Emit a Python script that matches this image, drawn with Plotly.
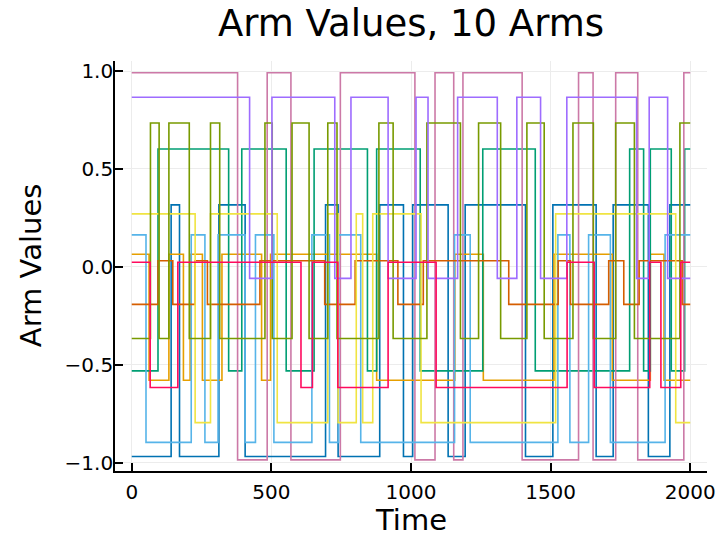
import plotly.graph_objects as go

T_END = 2000

# Arm data: (high value, low value), starting level, switch times
blue_levels = (0.317, -0.967); blue_start_high = False
blue_switch = [141, 171, 312, 406, 694, 739, 888, 973, 1006, 1133, 1194, 1410, 1508, 1663, 1724, 1850, 1927]

orange_levels = (0.065, -0.578); orange_start_high = True
orange_switch = [62, 133, 185, 209, 253, 323, 465, 497, 877, 1157, 1259, 1512, 1721, 1857, 1906]

green_levels = (0.602, -0.530); green_start_high = False
green_switch = [94, 347, 394, 553, 653, 844, 877, 1033, 1257, 1445, 1783, 1833, 1857, 1932, 1980]

pink_levels = (0.991, -0.984); pink_start_high = True
pink_switch = [379, 485, 570, 747, 1014, 1086, 1153, 1186, 1398, 1600, 1652, 1733, 1812, 1977]

lightblue_levels = (0.164, -0.895); lightblue_start_high = True
lightblue_switch = [51, 213, 262, 309, 406, 443, 509, 645, 708, 741, 820, 1156, 1212, 1526, 1569, 1636, 1714, 1910]

vermillion_levels = (0.032, -0.191); vermillion_start_high = False
vermillion_switch = [94, 147, 227, 271, 459, 691, 800, 953, 1044, 1350, 1527, 1571, 1708, 1762, 1817, 1971]

yellow_levels = (0.271, -0.794); yellow_start_high = True
yellow_switch = [227, 282, 521, 702, 739, 804, 827, 863, 1036, 1518, 1948]

olive_levels = (0.735, -0.365); olive_start_high = False
olive_switch = [67, 98, 133, 206, 282, 315, 477, 503, 574, 635, 702, 735, 885, 936, 1057, 1177, 1242,
                1321, 1415, 1477, 1580, 1653, 1733, 1800, 1963]

purple_levels = (0.866, -0.058); purple_start_high = True
purple_switch = [422, 502, 727, 785, 918, 1018, 1061, 1167, 1309, 1379, 1464, 1558, 1808, 1853, 1919]

crimson_levels = (0.024, -0.615); crimson_start_high = True
crimson_switch = [66, 165, 606, 647, 738, 918, 1090, 1559, 1656, 1855, 1895, 1966]

arms = [
    (blue_levels, blue_start_high, blue_switch, "#0072B2"),
    (orange_levels, orange_start_high, orange_switch, "#E69F00"),
    (green_levels, green_start_high, green_switch, "#009E73"),
    (pink_levels, pink_start_high, pink_switch, "#CC79A7"),
    (lightblue_levels, lightblue_start_high, lightblue_switch, "#56B4E9"),
    (vermillion_levels, vermillion_start_high, vermillion_switch, "#D55E00"),
    (yellow_levels, yellow_start_high, yellow_switch, "#F0E442"),
    (olive_levels, olive_start_high, olive_switch, "#789A00"),
    (purple_levels, purple_start_high, purple_switch, "#9E6CFF"),
    (crimson_levels, crimson_start_high, crimson_switch, "#FF0A5E"),
]

x_ticks = [0, 500, 1000, 1500, 2000]
x_ticktext = ["0", "500", "1000", "1500", "2000"]
y_ticks = [-1.0, -0.5, 0.0, 0.5, 1.0]
y_ticktext = ["\u22121.0", "\u22120.5", "0.0", "0.5", "1.0"]

fig = go.Figure()
for levels, start_high, switches, color in arms:
    xs = [0] + switches + [T_END]
    state = start_high
    ys = []
    for _ in range(len(switches) + 1):
        ys.append(levels[0] if state else levels[1])
        state = not state
    ys.append(ys[-1])
    fig.add_trace(go.Scatter(x=xs, y=ys, mode="lines", line_shape="hv",
                             line=dict(color=color, width=1.6), showlegend=False,
                             hoverinfo="skip"))

FONT = "DejaVu Sans"
W, H = 726, 539
fig.update_layout(
    width=W, height=H,
    margin=dict(l=115, r=11, t=61, b=68),
    paper_bgcolor="white", plot_bgcolor="white",
    font=dict(family=FONT, color="black"),
    title=dict(text="Arm Values, 10 Arms", font=dict(size=37, family=FONT, color="black"),
               x=0.5, xref="paper", xanchor="center", y=1 - 23 / H, yref="container",
               yanchor="middle"),
    showlegend=False,
)
fig.update_xaxes(range=[-60, 2060], tickvals=x_ticks, ticktext=x_ticktext,
                 showgrid=True, gridcolor="#ececec", gridwidth=1,
                 showline=True, linecolor="black", linewidth=1.6,
                 ticks="inside", ticklen=8, tickwidth=1.5, tickcolor="black",
                 tickfont=dict(size=20, family=FONT, color="black"),
                 ticklabelstandoff=2, ticklabeloverflow="allow",
                 zeroline=False, mirror=False)
fig.update_yaxes(range=[-1.041, 1.051], tickvals=y_ticks, ticktext=y_ticktext,
                 showgrid=True, gridcolor="#ececec", gridwidth=1,
                 showline=True, linecolor="black", linewidth=1.6,
                 ticks="inside", ticklen=8, tickwidth=1.5, tickcolor="black",
                 tickfont=dict(size=20, family=FONT, color="black"),
                 ticklabelstandoff=-4, zeroline=False, mirror=False)

fig.add_annotation(text="Time", xref="paper", yref="paper", x=0.5, y=(471 - 520) / 410,
                   xanchor="center", yanchor="middle", showarrow=False,
                   font=dict(size=29, family=FONT, color="black"))
fig.add_annotation(text="Arm Values", xref="paper", yref="paper", x=(30 - 115) / 600, y=0.5,
                   xanchor="center", yanchor="middle", showarrow=False, textangle=-90,
                   font=dict(size=29, family=FONT, color="black"))

fig.write_html("out.html", config={"displayModeBar": False},
               post_script="document.body.style.margin='0';document.body.style.padding='0';")
